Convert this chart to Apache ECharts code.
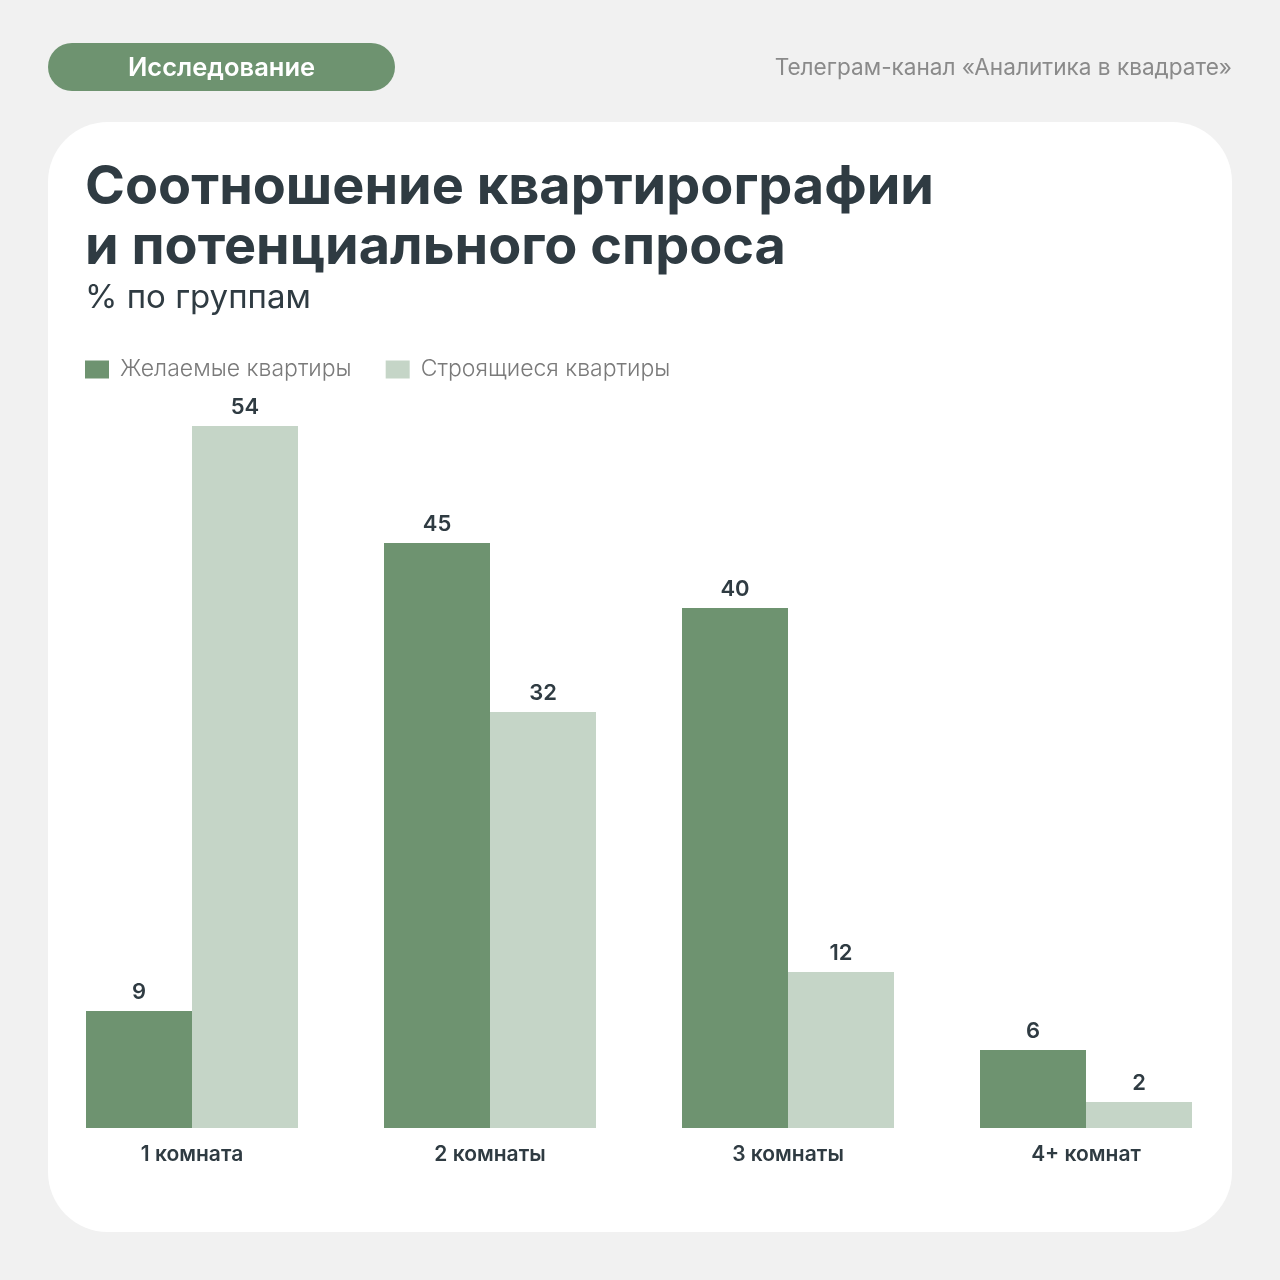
<!DOCTYPE html>
<html>
<head>
<meta charset="utf-8">
<script src="https://cdn.jsdelivr.net/npm/echarts@6/dist/echarts.min.js"></script>
<style>
  html, body { margin: 0; padding: 0; background: #f1f1f1; }
  #main { width: 1280px; height: 1280px; }
</style>
</head>
<body>
<div id="main"></div>
<script>
var categories = ["1 комната", "2 комнаты", "3 комнаты", "4+ комнат"];
var wanted = [9, 45, 40, 6];
var building = [54, 32, 12, 2];
var seriesNames = ["Желаемые квартиры", "Строящиеся квартиры"];

var dark = "#2f3b42";
var font = "Inter, 'Noto Sans', sans-serif";

var chart = echarts.init(document.getElementById("main"));
var option = {
  backgroundColor: "#f1f1f1",
  textStyle: {fontFamily: font},
  graphic: [
    {type: "rect", z: -10, shape: {x: 48, y: 122, width: 1184, height: 1110, r: 60}, style: {fill: "#ffffff"}},
    {type: "rect", z: -10, shape: {x: 48, y: 43, width: 347, height: 48, r: 24}, style: {fill: "#6e9370"}},
    {type: "text", left: 128, top: 55, style: {text: "Исследование", fill: "#ffffff", font: "600 25.5px " + font}},
    {type: "text", right: 48, top: 57, style: {text: "Телеграм-канал «Аналитика в квадрате»", fill: "#8a8a8a", font: "400 22.6px " + font}}
  ],
  title: {
    text: "Соотношение квартирографии\nи потенциального спроса",
    subtext: "% по группам",
    left: 80,
    top: 153,
    itemGap: 2,
    textStyle: {color: dark, fontSize: 54, fontWeight: 700, lineHeight: 60, fontFamily: font},
    subtextStyle: {color: dark, fontSize: 33, fontWeight: 400, lineHeight: 36, fontFamily: font}
  },
  legend: {
    data: seriesNames,
    left: 80,
    top: 353,
    icon: "rect",
    itemWidth: 24,
    itemHeight: 18,
    itemGap: 34,
    textStyle: {color: "#7a7a7a", fontSize: 23, fontWeight: 300, padding: [0, 0, 0, 6]}
  },
  grid: {left: 43, right: 45, top: 348, bottom: 152},
  xAxis: {
    type: "category",
    data: categories,
    axisLine: {show: false},
    axisTick: {show: false},
    axisLabel: {color: dark, fontSize: 21, fontWeight: 600, margin: 16}
  },
  yAxis: {type: "value", min: 0, max: 60, show: false, splitLine: {show: false}},
  series: [
    {
      name: seriesNames[0],
      type: "bar",
      data: wanted,
      barWidth: 106,
      barGap: "0%",
      itemStyle: {color: "#6e9370"},
      label: {show: true, position: "top", distance: 8, color: dark, fontSize: 22, fontWeight: 600}
    },
    {
      name: seriesNames[1],
      type: "bar",
      data: building,
      barWidth: 106,
      barGap: "0%",
      itemStyle: {color: "#c5d5c7"},
      label: {show: true, position: "top", distance: 8, color: dark, fontSize: 22, fontWeight: 600}
    }
  ]
};
chart.setOption(option);
</script>
</body>
</html>
